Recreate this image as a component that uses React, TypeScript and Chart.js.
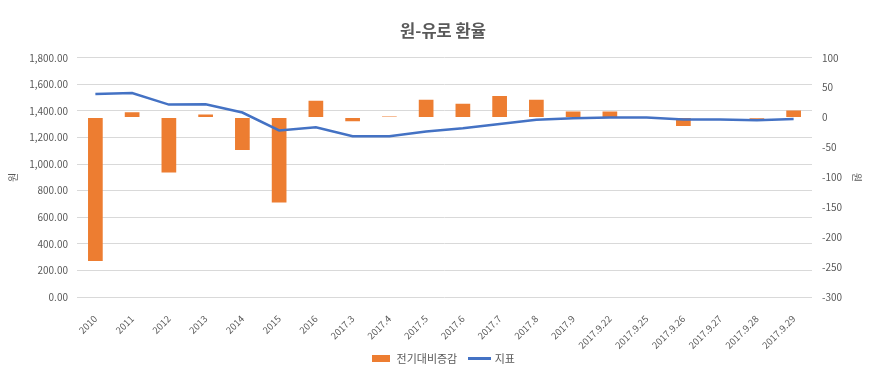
import React, { useEffect, useRef } from "react";
import { Chart, registerables } from "chart.js";

Chart.register(...registerables);

const categories = ["2010", "2011", "2012", "2013", "2014", "2015", "2016", "2017.3", "2017.4", "2017.5", "2017.6", "2017.7", "2017.8", "2017.9", "2017.9.22", "2017.9.25", "2017.9.26", "2017.9.27", "2017.9.28", "2017.9.29"];
const changeValues = [-240, 9, -92, 5, -54, -142, 28, -6, 2, 30, 23, 36, 30, 10, 10, 0, -14, 0, -2, 12];
const indexValues = [1528, 1535, 1448, 1450, 1388, 1253, 1277, 1210, 1210, 1245, 1270, 1302, 1333, 1345, 1350, 1350, 1335, 1335, 1330, 1340];
const titleText = "원-유로 환율";
const changeLabel = "전기대비증감";
const indexLabel = "지표";
const leftAxisTitle = "원";
const rightAxisTitle = "원";

const FONT = '"Noto Sans CJK KR", "Noto Sans", sans-serif';
const TEXT = "#595959";
const ORANGE = "#ED7D31";
const BLUE = "#4472C4";

function swatch(w: number, h: number, color: string) {
  const c = document.createElement("canvas");
  c.width = w;
  c.height = h;
  const ctx = c.getContext("2d")!;
  ctx.fillStyle = color;
  ctx.fillRect(0, 0, w, h);
  return c;
}

export default function App() {
  const ref = useRef<HTMLCanvasElement>(null);
  useEffect(() => {
    document.body.style.margin = "0";
    const barIcon = swatch(18, 7, ORANGE);
    const lineIcon = swatch(23, 3, BLUE);
    const chart = new Chart(ref.current!, {
      type: "bar",
      data: {
        labels: categories,
        datasets: [
          {
            type: "bar",
            label: changeLabel,
            data: changeValues,
            backgroundColor: ORANGE,
            yAxisID: "y1",
            order: 2,
            barPercentage: 0.4,
            categoryPercentage: 1,
            pointStyle: barIcon,
          } as any,
          {
            type: "line",
            label: indexLabel,
            data: indexValues,
            borderColor: BLUE,
            backgroundColor: BLUE,
            borderWidth: 2.5,
            pointRadius: 0,
            tension: 0,
            yAxisID: "y",
            order: 1,
            pointStyle: lineIcon,
          } as any,
        ],
      },
      options: {
        animation: false,
        responsive: true,
        maintainAspectRatio: false,
        layout: { padding: { left: 6, right: 7, top: 0, bottom: 6 } },
        plugins: {
          title: {
            display: true,
            text: titleText,
            color: TEXT,
            font: { family: FONT, size: 16.5, weight: "bold" },
            padding: { top: 21, bottom: 17 },
          },
          legend: {
            position: "bottom",
            labels: {
              usePointStyle: true,
              pointStyleWidth: 20,
              color: TEXT,
              font: { family: FONT, size: 11 },
              padding: 12,
              sort: (a: any, b: any) => a.datasetIndex - b.datasetIndex,
            },
          },
          tooltip: { enabled: false },
        },
        scales: {
          x: {
            grid: { display: false },
            border: { display: false },
            ticks: {
              color: TEXT,
              font: { family: FONT, size: 9.5 },
              minRotation: 45,
              maxRotation: 45,
              autoSkip: false,
              padding: 8,
            },
            afterFit: (scale: any) => {
              scale.height = 44;
              scale._computeLabelArea = () => undefined;
            },
          },
          y: {
            position: "left",
            min: 0,
            max: 1800,
            grid: { color: "#D9D9D9", drawTicks: false },
            border: { display: false },
            ticks: {
              stepSize: 200,
              padding: 9,
              color: TEXT,
              font: { family: FONT, size: 10 },
              callback: (v: any) =>
                Number(v).toLocaleString("en-US", { minimumFractionDigits: 2, maximumFractionDigits: 2 }),
            },
            title: { display: true, text: leftAxisTitle, color: TEXT, font: { family: FONT, size: 10 }, padding: { top: 1, bottom: 2 } },
            afterFit: (scale: any) => {
              scale.width = 71;
            },
          },
          y1: {
            position: "right",
            min: -300,
            max: 100,
            grid: { drawOnChartArea: false, drawTicks: false },
            border: { display: false },
            ticks: {
              stepSize: 50,
              padding: 10,
              color: TEXT,
              font: { family: FONT, size: 10 },
            },
            title: { display: true, text: rightAxisTitle, color: TEXT, font: { family: FONT, size: 10 }, padding: { top: 17, bottom: 2 } },
            afterFit: (scale: any) => {
              scale.width = 68;
            },
          },
        },
      } as any,
    });
    return () => chart.destroy();
  }, []);
  return (
    <div style={{ width: 887, height: 380, position: "relative" }}>
      <canvas ref={ref} />
    </div>
  );
}
